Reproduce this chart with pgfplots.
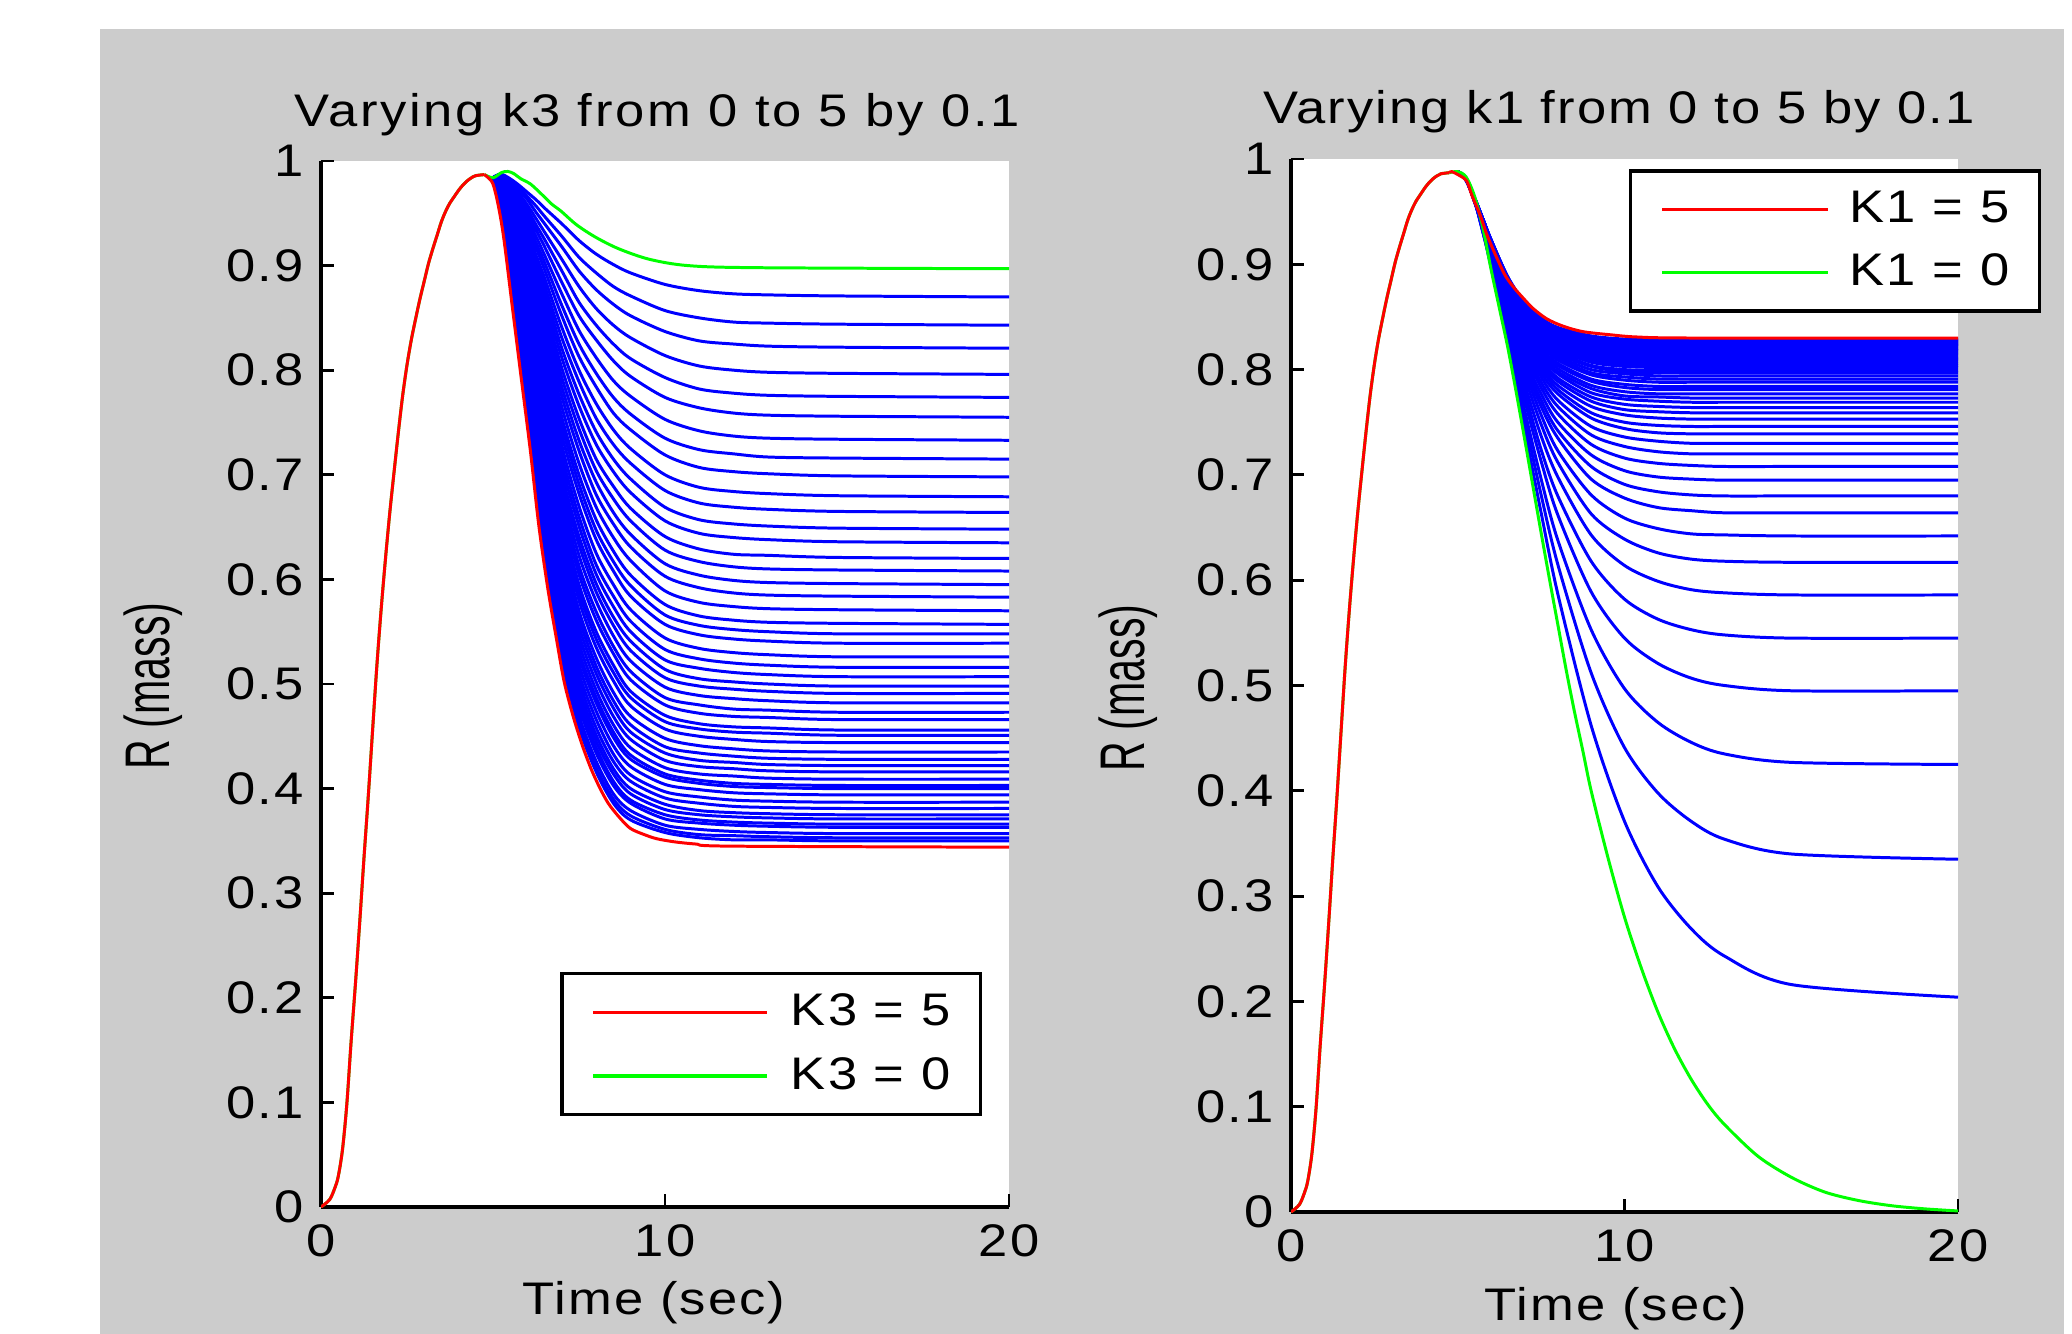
\documentclass[border=0pt]{standalone}
\usepackage{fontspec}
\setmainfont{Liberation Sans}
\newfontfamily\mfont[FakeStretch=1.15, LetterSpace=4.5]{Liberation Sans}
\newcommand\mf{\mfont\fontsize{13}{15}\selectfont}
\usepackage{pgfplots}
\usepackage{pgfplotstable}
\pgfplotsset{compat=1.18}
\definecolor{mgray}{RGB}{204,204,204}
\definecolor{mred}{RGB}{255,0,0}
\definecolor{mgreen}{RGB}{0,255,0}
\definecolor{mblue}{RGB}{0,0,255}

% common rise, t = 0 .. 4.75 (same in both runs)
\pgfplotstableread{
t v
0 0
0.25 .007
0.4 .018
0.5 .029
0.625 .055
0.75 .098
0.875 .158
1 .213
1.125 .272
1.25 .334
1.375 .393
1.5 .456
1.625 .518
1.75 .572
1.875 .620
2 .664
2.125 .703
2.25 .741
2.375 .776
2.5 .805
2.625 .829
2.75 .849
2.875 .868
3 .885
3.125 .902
3.25 .916
3.375 .929
3.5 .942
3.625 .952
3.75 .960
3.875 .966
4 .972
4.125 .977
4.25 .981
4.375 .984
4.5 .986
4.75 .987
}\rise

% k3 = 0.1 ... 4.9, one row per run, first row = time
\pgfplotstableread[header=false]{
5 5.25 5.5 5.75 6 6.25 6.5 7 7.5 8 8.5 9 10 11 12 13 15 20
.984 .987 .983 .977 .970 .963 .955 .940 .924 .911 .901 .893 .882 .876 .873 .872 .871 .870
.984 .987 .982 .975 .966 .957 .947 .928 .908 .893 .880 .871 .857 .850 .846 .845 .844 .843
.984 .987 .981 .972 .963 .951 .940 .918 .895 .877 .863 .852 .837 .828 .825 .823 .822 .821
.984 .987 .979 .969 .958 .945 .932 .906 .880 .859 .843 .831 .814 .804 .800 .798 .797 .796
.984 .987 .978 .967 .954 .939 .925 .895 .865 .843 .825 .811 .793 .782 .778 .776 .775 .774
.984 .987 .977 .964 .950 .934 .918 .884 .852 .829 .809 .794 .774 .764 .759 .757 .756 .755
.984 .987 .975 .961 .945 .928 .910 .873 .838 .812 .790 .775 .753 .742 .737 .735 .734 .733
.984 .987 .974 .959 .941 .922 .903 .862 .825 .797 .774 .758 .735 .724 .720 .717 .716 .715
.984 .987 .973 .956 .937 .917 .896 .852 .813 .784 .759 .743 .719 .707 .703 .701 .699 .698
.984 .986 .971 .953 .933 .910 .888 .841 .800 .768 .743 .725 .700 .688 .684 .682 .680 .679
.984 .986 .970 .950 .929 .905 .881 .831 .789 .754 .729 .711 .685 .673 .669 .667 .665 .664
.984 .986 .969 .948 .924 .900 .875 .821 .777 .741 .715 .696 .669 .657 .653 .651 .649 .648
.984 .985 .967 .945 .921 .894 .868 .812 .766 .729 .703 .683 .656 .644 .640 .638 .636 .635
.984 .984 .966 .942 .916 .889 .861 .802 .754 .715 .689 .668 .641 .629 .624 .623 .621 .620
.984 .984 .964 .939 .912 .884 .854 .793 .744 .704 .677 .656 .628 .617 .612 .610 .609 .608
.984 .983 .963 .936 .908 .878 .847 .784 .733 .693 .664 .643 .615 .604 .599 .597 .596 .595
.984 .983 .962 .933 .903 .872 .841 .775 .723 .681 .653 .631 .603 .592 .587 .585 .584 .583
.984 .982 .960 .930 .899 .867 .834 .765 .711 .669 .640 .618 .589 .578 .574 .572 .571 .570
.984 .981 .958 .927 .895 .861 .826 .755 .700 .657 .627 .604 .576 .565 .561 .559 .558 .557
.984 .980 .957 .924 .890 .855 .820 .747 .691 .647 .617 .594 .566 .556 .552 .550 .548 .548
.984 .979 .955 .922 .887 .850 .814 .738 .682 .638 .608 .584 .557 .547 .543 .541 .539 .539
.984 .979 .953 .919 .881 .844 .805 .728 .670 .625 .595 .571 .544 .534 .530 .528 .526 .526
.984 .978 .951 .915 .877 .838 .798 .719 .660 .614 .584 .560 .533 .524 .520 .518 .516 .516
.984 .977 .949 .912 .873 .833 .792 .710 .651 .605 .574 .550 .523 .515 .511 .509 .507 .507
.984 .976 .946 .909 .868 .827 .785 .701 .641 .596 .564 .541 .514 .505 .502 .500 .498 .498
.984 .975 .944 .906 .865 .822 .778 .694 .633 .588 .556 .532 .506 .498 .495 .493 .491 .491
.984 .974 .942 .903 .860 .817 .771 .686 .623 .579 .546 .522 .497 .489 .486 .484 .482 .482
.984 .973 .940 .899 .855 .811 .763 .678 .613 .569 .536 .512 .487 .480 .476 .475 .473 .473
.984 .972 .938 .896 .851 .805 .757 .670 .605 .561 .529 .504 .480 .472 .469 .468 .466 .466
.984 .971 .936 .892 .846 .799 .749 .661 .595 .550 .518 .493 .470 .462 .459 .458 .456 .456
.984 .969 .933 .889 .842 .794 .743 .655 .588 .543 .511 .487 .464 .457 .454 .453 .451 .451
.984 .969 .931 .886 .837 .788 .736 .647 .580 .535 .503 .479 .457 .450 .447 .445 .444 .444
.984 .967 .928 .882 .832 .782 .727 .638 .570 .525 .492 .469 .448 .441 .438 .436 .435 .435
.984 .966 .926 .878 .827 .776 .720 .630 .563 .517 .484 .461 .440 .434 .431 .429 .428 .428
.984 .964 .923 .874 .823 .770 .713 .623 .555 .510 .477 .454 .434 .427 .425 .423 .422 .422
.984 .964 .921 .871 .818 .764 .707 .615 .547 .502 .469 .447 .427 .421 .419 .417 .416 .416
.984 .962 .918 .867 .813 .758 .700 .608 .539 .494 .461 .439 .420 .414 .412 .410 .409 .409
.984 .961 .915 .863 .808 .751 .693 .600 .531 .487 .454 .432 .414 .408 .405 .404 .403 .403
.984 .959 .913 .860 .804 .746 .687 .595 .526 .482 .449 .428 .411 .405 .402 .401 .400 .400
.984 .958 .910 .855 .799 .740 .680 .587 .518 .474 .441 .421 .404 .399 .396 .395 .394 .394
.984 .956 .907 .851 .794 .733 .673 .578 .510 .466 .433 .413 .397 .392 .389 .388 .387 .387
.984 .955 .905 .848 .788 .726 .666 .571 .503 .458 .426 .407 .391 .386 .383 .382 .381 .381
.984 .953 .901 .843 .783 .720 .658 .564 .496 .451 .419 .400 .385 .379 .377 .376 .375 .375
.984 .952 .899 .839 .778 .714 .652 .557 .490 .445 .414 .395 .380 .375 .373 .372 .371 .371
.984 .950 .896 .835 .773 .707 .645 .550 .483 .439 .407 .389 .375 .370 .368 .367 .366 .366
.984 .949 .893 .832 .769 .702 .639 .543 .478 .434 .403 .386 .371 .367 .365 .364 .363 .363
.984 .947 .890 .827 .763 .695 .632 .536 .470 .426 .395 .379 .365 .361 .359 .358 .357 .357
.984 .945 .887 .823 .758 .688 .625 .529 .464 .420 .390 .374 .361 .356 .355 .354 .353 .353
.984 .944 .884 .820 .754 .683 .619 .523 .459 .416 .386 .370 .358 .353 .351 .351 .350 .350
}\leftraw
\pgfplotstabletranspose\leftblue{\leftraw}

% k1 = 0.1 ... 4.9
\pgfplotstableread[header=false]{
5 5.25 5.5 5.75 6 6.5 7 7.5 8 9 10 11 12 13 15 20
.988 .982 .963 .932 .897 .825 .744 .664 .587 .462 .371 .309 .269 .243 .216 .204
.988 .981 .962 .931 .899 .830 .754 .681 .615 .512 .441 .398 .371 .354 .340 .335
.988 .981 .961 .931 .902 .834 .762 .696 .638 .553 .497 .465 .446 .435 .427 .425
.988 .981 .962 .932 .904 .839 .772 .713 .662 .589 .545 .521 .507 .500 .495 .495
.988 .981 .961 .933 .906 .842 .780 .724 .680 .618 .582 .563 .553 .548 .545 .545
.988 .981 .960 .934 .908 .846 .787 .737 .698 .643 .614 .599 .591 .588 .586 .586
.988 .981 .960 .935 .909 .850 .794 .748 .712 .663 .639 .626 .620 .618 .617 .617
.988 .981 .960 .936 .910 .852 .800 .757 .723 .681 .659 .649 .644 .643 .642 .642
.988 .981 .960 .937 .911 .855 .805 .765 .735 .696 .678 .669 .666 .664 .664 .664
.988 .981 .960 .937 .911 .857 .808 .771 .742 .708 .691 .684 .681 .680 .680 .680
.988 .981 .960 .938 .912 .859 .812 .777 .750 .719 .704 .698 .696 .695 .695 .695
.988 .981 .960 .938 .913 .861 .817 .783 .758 .729 .716 .711 .709 .708 .708 .708
.988 .981 .960 .939 .914 .863 .821 .788 .765 .738 .727 .722 .720 .720 .720 .720
.988 .981 .961 .939 .914 .865 .824 .793 .771 .746 .736 .732 .730 .730 .730 .730
.988 .981 .961 .940 .915 .867 .827 .797 .777 .754 .744 .740 .739 .739 .739 .739
.988 .981 .961 .940 .916 .868 .829 .801 .781 .759 .750 .747 .746 .746 .746 .746
.988 .981 .961 .940 .916 .869 .832 .804 .785 .765 .757 .754 .753 .753 .753 .753
.988 .981 .961 .940 .917 .870 .834 .807 .789 .770 .762 .760 .759 .759 .759 .759
.988 .981 .961 .941 .917 .871 .836 .810 .792 .774 .767 .765 .764 .764 .764 .764
.988 .982 .961 .941 .917 .872 .837 .813 .796 .778 .772 .770 .769 .769 .769 .769
.988 .980 .961 .941 .917 .873 .839 .814 .798 .782 .775 .774 .773 .773 .773 .773
.988 .980 .961 .941 .918 .874 .840 .817 .801 .785 .779 .777 .777 .777 .777 .777
.988 .980 .961 .941 .918 .875 .842 .819 .804 .789 .783 .781 .781 .781 .781 .781
.988 .980 .961 .941 .918 .875 .843 .820 .806 .791 .786 .784 .784 .784 .784 .784
.988 .980 .962 .941 .919 .877 .845 .823 .809 .795 .790 .788 .788 .788 .788 .788
.988 .980 .962 .941 .919 .877 .846 .825 .811 .797 .793 .791 .791 .791 .791 .791
.988 .980 .962 .941 .919 .878 .847 .826 .813 .800 .796 .794 .794 .794 .794 .794
.988 .980 .962 .942 .919 .879 .849 .828 .815 .803 .798 .797 .797 .797 .797 .797
.988 .980 .962 .942 .920 .879 .850 .829 .817 .804 .800 .799 .799 .799 .799 .799
.988 .980 .962 .942 .920 .880 .851 .831 .819 .807 .803 .802 .802 .802 .802 .802
.988 .980 .962 .942 .920 .881 .852 .832 .821 .809 .805 .804 .804 .804 .804 .804
.988 .980 .962 .942 .920 .881 .853 .834 .822 .811 .807 .806 .806 .806 .806 .806
.988 .980 .962 .942 .921 .882 .854 .835 .824 .813 .809 .808 .808 .808 .808 .808
.988 .980 .962 .943 .921 .882 .855 .836 .825 .814 .811 .810 .810 .810 .810 .810
.988 .980 .962 .942 .921 .882 .855 .837 .826 .815 .812 .811 .811 .811 .811 .811
.988 .980 .962 .943 .921 .883 .856 .838 .827 .817 .814 .813 .813 .813 .813 .813
.988 .980 .963 .943 .922 .884 .857 .839 .829 .819 .816 .815 .815 .815 .815 .815
.988 .980 .963 .943 .922 .884 .857 .840 .830 .820 .817 .816 .816 .816 .816 .816
.988 .980 .963 .943 .922 .885 .859 .841 .831 .822 .819 .818 .818 .818 .818 .818
.988 .980 .963 .943 .922 .885 .859 .842 .832 .823 .820 .819 .819 .819 .819 .819
.988 .980 .963 .943 .922 .885 .859 .842 .833 .823 .821 .820 .820 .820 .820 .820
.988 .980 .963 .943 .922 .886 .861 .844 .834 .825 .823 .822 .822 .822 .822 .822
.988 .980 .963 .943 .922 .886 .861 .844 .835 .826 .824 .823 .823 .823 .823 .823
.988 .980 .963 .943 .923 .887 .862 .845 .836 .827 .825 .824 .824 .824 .824 .824
.988 .980 .963 .943 .923 .887 .862 .846 .837 .828 .826 .825 .825 .825 .825 .825
.988 .980 .963 .943 .923 .887 .863 .846 .837 .829 .827 .826 .826 .826 .826 .826
.988 .980 .963 .943 .923 .887 .863 .847 .838 .830 .828 .827 .827 .827 .827 .827
.988 .980 .963 .943 .923 .888 .863 .848 .839 .831 .828 .828 .828 .828 .828 .828
.988 .980 .963 .943 .923 .888 .864 .849 .840 .832 .829 .829 .829 .829 .829 .829
}\rightraw
\pgfplotstabletranspose\rightblue{\rightraw}

\pgfplotsset{
  mstyle/.style={
    scale only axis, anchor=south west,
    xmin=0, xmax=20, ymin=0, ymax=1,
    axis lines=left, axis line style={-, line width=1.05pt},
    axis background/.style={fill=white},
    xtick={0,10,20}, ytick={0,0.1,0.2,0.3,0.4,0.5,0.6,0.7,0.8,0.9,1},
    tick align=inside, major tick length=0.13cm,
    every tick/.style={black, line width=0.8pt},
    tick label style={font=\mf},
    yticklabel style={xshift=-1.5pt},
    xticklabel style={yshift=-0.5mm},
    /pgf/number format/assume math mode=true,
    legend cell align=left, reverse legend,
  },
  lg/.style={anchor=north west, draw=black, line width=1pt, fill=white,
    inner xsep=3.0mm, inner ysep=2.0mm, row sep=2.65mm, font=\mf,
    nodes={inner sep=0pt}, /tikz/every odd column/.append style={column sep=2.2mm}},
  bl/.style={forget plot, mblue, line width=0.85pt, smooth},
  rd/.style={mred, line width=0.85pt, smooth},
  gr/.style={mgreen, line width=0.85pt, smooth},
}

\begin{document}
\begin{tikzpicture}
\fill[white] (0,0) rectangle (20.72cm,-13.34cm);
\fill[mgray] (1.00cm,-0.29cm) rectangle (20.64cm,-13.34cm);

\begin{axis}[mstyle, at={(3.21cm,-12.07cm)}, width=6.88cm, height=10.46cm,
  legend style={lg, at={(0.3474,0.2247)}},
  legend image code/.code={\draw[#1, line width=0.9pt] (0cm,0cm) -- (1.74cm,0cm);}]
\pgfplotsinvokeforeach{2,...,50}{\addplot[bl] table[x index=1, y index=#1] {\leftblue};}
\addplot[gr, forget plot] table[x=t, y=v] {\rise};
\addplot[gr] coordinates {(4.75,.987) (5,.984) (5.25,.989) (5.43,.990) (5.6,.988) (5.81,.983)
  (6.09,.978) (6.42,.968) (6.7,.959) (6.98,.952) (7.43,.939) (7.99,.927) (8.66,.916)
  (9.55,.906) (10.67,.900) (12.68,.898) (20,.897)};
\addlegendentry{K3 = 0}
\addplot[rd, forget plot] table[x=t, y=v] {\rise};
\addplot[rd] coordinates {(4.75,.987) (4.86,.984) (5,.978) (5.15,.958) (5.31,.927) (5.56,.861)
  (5.83,.790) (6.09,.722) (6.33,.652) (6.59,.592) (6.84,.544) (7.07,.502) (7.34,.468)
  (7.6,.441) (7.85,.419) (8.1,.401) (8.35,.386) (8.66,.373) (8.99,.362) (9.4,.356)
  (9.77,.352) (10.3,.349) (10.9,.347) (11.9,.345) (20,.344)};
\addlegendentry{K3 = 5}
\end{axis}

\begin{axis}[mstyle, at={(12.91cm,-12.12cm)}, width=6.67cm, height=10.53cm,
  legend style={lg, at={(0.5067,0.9905)}, /tikz/every odd column/.append style={column sep=2.0mm}},
  legend image code/.code={\draw[#1, line width=0.9pt] (0cm,0cm) -- (1.66cm,0cm);}]
\pgfplotsinvokeforeach{2,...,50}{\addplot[bl] table[x index=1, y index=#1] {\rightblue};}
\addplot[gr, forget plot] table[x=t, y=v] {\rise};
\addplot[gr] coordinates {(4.75,.987) (5,.988) (5.25,.983) (5.5,.965) (5.75,.935) (6,.895)
  (6.25,.858) (6.5,.821) (6.75,.779) (7,.735) (7.25,.690) (7.5,.645) (7.75,.601) (8,.558)
  (8.25,.515) (8.5,.475) (8.75,.438) (9,.400) (9.5,.337) (10,.280) (10.5,.232) (11,.190)
  (11.5,.155) (12,.126) (12.5,.102) (13,.083) (14,.053) (15,.033) (16,.019) (17,.011)
  (18,.006) (19,.003) (20,.001)};
\addlegendentry{K1 = 0}
\addplot[rd, forget plot] table[x=t, y=v] {\rise};
\addplot[rd] coordinates {(4.75,.987) (4.82,.988) (5.07,.984) (5.27,.979) (5.43,.965) (5.68,.946)
  (5.85,.930) (6.02,.917) (6.23,.902) (6.43,.889) (6.68,.878) (6.93,.869) (7.26,.858)
  (7.68,.848) (8.18,.841) (8.76,.836) (9.6,.833) (10.35,.831) (12,.830) (20,.830)};
\addlegendentry{K1 = 5}
\end{axis}

\begin{scope}[every node/.style={inner sep=0pt}]
\node[font=\mf, anchor=base] at (6.57cm,-1.27cm) {\addfontfeatures{LetterSpace=6}Varying k3 from 0 to 5 by 0.1};
\node[font=\mf, anchor=base] at (16.19cm,-1.24cm) {Varying k1 from 0 to 5 by 0.1};
\node[font=\mf, anchor=base] at (6.54cm,-13.14cm) {Time (sec)};
\node[font=\mf, anchor=base] at (16.16cm,-13.20cm) {Time (sec)};
\node[rotate=90, font=\fontsize{13}{15}\selectfont] at (1.53cm,-6.86cm) {\scalebox{0.9}[1.38]{R (mass)}};
\node[rotate=90, font=\fontsize{13}{15}\selectfont] at (11.285cm,-6.88cm) {\scalebox{0.9}[1.38]{R (mass)}};
\end{scope}
\end{tikzpicture}
\end{document}
